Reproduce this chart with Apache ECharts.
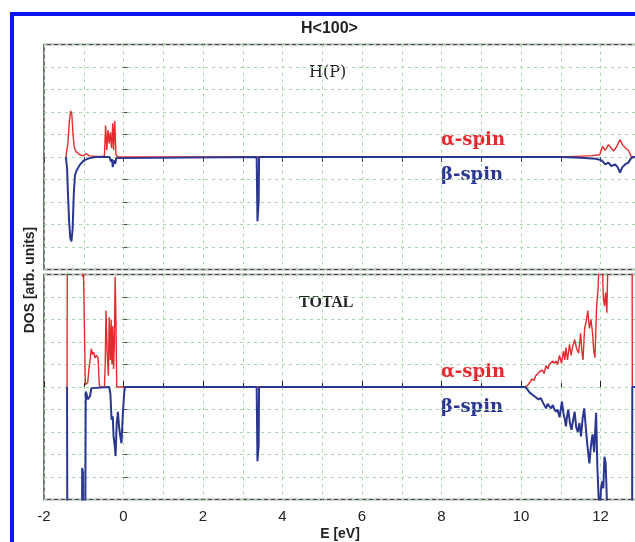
<!DOCTYPE html>
<html>
<head>
<meta charset="utf-8">
<script src="https://cdn.jsdelivr.net/npm/echarts@6/dist/echarts.min.js"></script>
<style>
  html, body { margin: 0; padding: 0; background: #fff; }
  #chart { width: 635px; height: 542px; }
</style>
</head>
<body>
<div id="chart"></div>
<script>
// Spin-resolved density of states, H<100> configuration.
// Upper panel: H(P) projected DOS; lower panel: total DOS.
// Energies in eV, DOS in arbitrary units (positive = alpha, negative = beta).

const xTicks = [-2, 0, 2, 4, 6, 8, 10, 12];

// ---- H(P) projected DOS, alpha spin ----
const hpAlphaE = [-1.45, -1.40, -1.36, -1.33, -1.30, -1.27, -1.24, -1.20, -1.15, -1.10, -1.05, -1.00, -0.95, -0.90, -0.85, -0.80, -0.70, -0.55, -0.48,
  -0.45, -0.42, -0.39, -0.36, -0.33, -0.30, -0.27, -0.25, -0.22, -0.19, -0.15,
  11.00, 11.40, 11.80, 11.98, 12.05, 12.12, 12.20, 12.27, 12.33, 12.42, 12.49, 12.55, 12.62, 12.70, 12.77, 12.84, 14.00];
const hpAlphaDos = [0, 0.6, 1.6, 2.05, 1.9, 1.0, 0.45, 0.25, 0.2, 0.1, 0.15, 0.05, 0.15, 0.1, 0.05, 0.05, 0.02, 0.02, 0.05,
  1.4, 0.3, 1.2, 0.6, 1.1, 0.4, 1.5, 0.3, 1.6, 0.1, 0,
  0, 0.03, 0.06, 0.1, 0.47, 0.3, 0.55, 0.4, 0.26, 0.5, 0.78, 0.55, 0.42, 0.3, 0.04, 0, 0];

// ---- H(P) projected DOS, beta spin ----
const hpBetaE = [-1.45, -1.42, -1.40, -1.37, -1.34, -1.31, -1.28, -1.25, -1.22, -1.18, -1.14, -1.10, -1.05, -1.00, -0.95, -0.85, -0.70,
  -0.35, -0.32, -0.29, -0.27, -0.24, -0.21, -0.18, -0.15,
  3.35, 3.37, 3.40, 3.41,
  11.00, 11.50, 11.88, 12.03, 12.12, 12.20, 12.27, 12.37, 12.43, 12.49, 12.55, 12.62, 12.70, 12.77, 12.84, 14.00];
const hpBetaDos = [0, -0.5, -1.5, -2.8, -3.6, -3.75, -3.2, -1.6, -0.8, -0.6, -0.55, -0.35, -0.3, -0.15, -0.1, -0.05, 0,
  0, -0.2, -0.1, -0.45, -0.15, -0.3, -0.05, 0,
  0, -2.85, -2.0, 0,
  0, -0.03, -0.08, -0.15, -0.33, -0.25, -0.4, -0.33, -0.45, -0.69, -0.45, -0.33, -0.25, -0.05, 0, 0];

// ---- Total DOS, alpha spin ----
const totAlphaE = [-1.42, -1.40, -1.39, -1.05, -1.03, -1.01, -0.98, -0.96, -0.93, -0.90, -0.87, -0.84, -0.81, -0.78, -0.75, -0.72, -0.68, -0.64, -0.61, -0.58,
  -0.48, -0.46, -0.44, -0.41, -0.38, -0.36, -0.33, -0.31, -0.29, -0.27, -0.25, -0.23, -0.21, -0.19, -0.17,
  10.10, 10.16, 10.22, 10.27, 10.33, 10.37, 10.42, 10.48, 10.54, 10.58, 10.63, 10.68, 10.71, 10.76, 10.80, 10.84, 10.88, 10.92, 10.97,
  11.02, 11.07, 11.10, 11.13, 11.17, 11.22, 11.26, 11.30, 11.35, 11.40, 11.45, 11.50, 11.53, 11.56, 11.60, 11.64, 11.68, 11.72, 11.76,
  11.80, 11.83, 11.86, 11.90, 11.94, 11.97, 12.00, 12.04, 12.07, 12.10, 12.13, 12.16, 12.19, 12.22, 12.78, 12.80, 14.00];
const totAlphaDos = [0, 0, 30, 30, 4.9, 5.5, 5.5, 0.1, 0.1, 0.2, 0.8, 1.2, 1.7, 1.45, 1.55, 1.3, 1.4, 1.3, 0.1, 0,
  0, 1.0, 3.4, 1.5, 0.5, 3.1, 1.2, 3.0, 1.0, 2.7, 0.8, 2.0, 4.9, 3.0, 0,
  0, 0.05, 0.2, 0.35, 0.3, 0.5, 0.45, 0.7, 0.75, 0.6, 0.95, 0.8, 1.0, 0.95, 1.15, 1.05, 1.15, 1.0, 1.4,
  1.05, 1.6, 1.2, 1.75, 1.2, 1.9, 1.4, 1.8, 2.1, 1.7, 1.5, 2.4, 1.6, 1.2, 2.6, 2.9, 3.4, 2.6, 3.0,
  2.4, 1.6, 1.3, 3.5, 4.4, 6, 8, 6, 4.0, 3.6, 4.2, 3.3, 6, 30, 30, 0, 0];

// ---- Total DOS, beta spin ----
const totBetaE = [-1.42, -1.40, -1.39, -1.05, -1.04, -1.02, -1.01, -0.97, -0.95, -0.93, -0.90, -0.87, -0.84, -0.81,
  -0.36, -0.33, -0.30, -0.27, -0.25, -0.22, -0.20, -0.17, -0.14, -0.11, -0.08, -0.05, -0.02, 0.02, 0.04,
  3.35, 3.37, 3.40, 3.41,
  10.10, 10.16, 10.22, 10.27, 10.33, 10.38, 10.44, 10.50, 10.54, 10.58, 10.63, 10.67, 10.71, 10.76, 10.80, 10.84, 10.88, 10.92, 10.97,
  11.00, 11.03, 11.07, 11.10, 11.13, 11.16, 11.19, 11.23, 11.27, 11.31, 11.35, 11.39, 11.43, 11.47, 11.51, 11.55, 11.59, 11.63, 11.67,
  11.72, 11.76, 11.80, 11.84, 11.87, 11.89, 11.92, 11.95, 11.98, 12.01, 12.04, 12.07, 12.10, 12.13, 12.16, 12.19, 12.78, 12.80, 14.00];
const totBetaDos = [0, 0, -30, -30, -3.6, -3.8, -30, -30, -0.2, -0.3, -0.55, -0.6, -0.4, -0.05,
  0, -0.3, -1.45, -1.3, -2.2, -2.6, -3.07, -1.6, -1.1, -1.8, -2.2, -2.5, -1.3, -0.2, 0,
  0, -3.3, -2.6, 0,
  0, -0.1, -0.25, -0.2, -0.4, -0.35, -0.55, -0.5, -0.65, -0.6, -0.95, -0.75, -0.85, -0.95, -0.8, -1.0, -1.1, -1.0, -1.35,
  -1.0, -0.65, -1.2, -1.4, -1.75, -1.3, -1.0, -1.6, -1.9, -1.5, -1.1, -1.8, -2.0, -1.6, -2.2, -1.4, -0.95, -1.8, -2.6,
  -3.4, -2.6, -2.1, -2.9, -1.8, -1.15, -3.5, -4.8, -6, -4.6, -4.2, -4.5, -3.1, -3.4, -5, -30, -30, 0, 0];

const RED = '#e52a2e';
const BLUE = '#2a3690';
const GRID_GREEN = '#a6d8a6';
const FRAME = '#4a4a4a';

const pairs = (e, v) => e.map((x, i) => [x, v[i]]);

const chart = echarts.init(document.getElementById('chart'), null, { renderer: 'canvas' });

const gridLine = { show: true, lineStyle: { color: GRID_GREEN, type: [3, 4], width: 1 } };

const yAxisBase = {
  type: 'value', min: -5, max: 5, interval: 1,
  axisLabel: { show: false },
  axisLine: { show: false },
  axisTick: { show: true, inside: true, length: 4, lineStyle: { color: FRAME } },
  splitLine: gridLine
};

const lineSeries = (name, data, color, width, xi, yi) => ({
  name, type: 'line', data, xAxisIndex: xi, yAxisIndex: yi,
  showSymbol: false, symbol: 'none', clip: true, animation: false,
  lineStyle: { color, width }, itemStyle: { color }
});

const serifLabel = (text, x, y, color, font) => ({
  type: 'text', left: x, top: y,
  style: { text, fill: color, font }
});

// plot area runs past the right edge of the canvas (axis extends to 14 eV)
const panel = top => ({
  left: 44, top, width: 636, height: 225,
  outerBoundsMode: 'none', containLabel: false,
  show: true, borderColor: FRAME, borderWidth: 1.5, backgroundColor: 'transparent'
});

const SPIN_FONT = 'bold 18px "DejaVu Serif"';

chart.setOption({
  animation: false,
  backgroundColor: '#ffffff',
  title: {
    text: 'H<100>', left: 296, top: 16,
    textStyle: { fontFamily: 'Liberation Sans', fontWeight: 'bold', fontSize: 16, color: '#222' }
  },
  grid: [panel(44.5), panel(274.5)],
  xAxis: [
    {
      type: 'value', gridIndex: 0, position: 'top', min: -2, max: 14, interval: 1,
      axisLabel: { show: false }, axisLine: { show: false },
      axisTick: { show: true, inside: true, length: 5, lineStyle: { color: FRAME } },
      splitLine: gridLine
    },
    {
      type: 'value', gridIndex: 1, position: 'bottom', min: -2, max: 14, interval: 2,
      axisLine: { show: false },
      axisTick: { show: true, inside: true, length: 6, lineStyle: { color: '#222' } },
      minorTick: { show: true, splitNumber: 2, length: 4, lineStyle: { color: '#222' } },
      splitLine: gridLine,
      minorSplitLine: gridLine,
      axisLabel: {
        show: true, margin: 10, fontFamily: 'Liberation Sans', fontSize: 15, color: '#222',
        formatter: v => (xTicks.indexOf(v) >= 0 ? String(v) : '')
      }
    }
  ],
  yAxis: [
    Object.assign({ gridIndex: 0 }, yAxisBase),
    Object.assign({ gridIndex: 1 }, yAxisBase)
  ],
  series: [
    lineSeries('H(P) α', pairs(hpAlphaE, hpAlphaDos), RED, 1.4, 0, 0),
    lineSeries('H(P) β', pairs(hpBetaE, hpBetaDos), BLUE, 2, 0, 0),
    lineSeries('TOTAL α', pairs(totAlphaE, totAlphaDos), RED, 1.4, 1, 1),
    lineSeries('TOTAL β', pairs(totBetaE, totBetaDos), BLUE, 2, 1, 1)
  ],
  graphic: [
    // outer blue frame
    { type: 'rect', shape: { x: 12, y: 14, width: 700, height: 600 }, style: { fill: 'none', stroke: '#0a14f0', lineWidth: 4 }, z: 100 },
    serifLabel('H(P)', 309, 65, '#222', '16px "DejaVu Serif"'),
    serifLabel('TOTAL', 299, 295, '#222', 'bold 16px "Liberation Serif"'),
    serifLabel('α-spin', 441, 131, RED, SPIN_FONT),
    serifLabel('β-spin', 441, 166, BLUE, SPIN_FONT),
    serifLabel('α-spin', 441, 363, RED, SPIN_FONT),
    serifLabel('β-spin', 441, 398, BLUE, SPIN_FONT),
    {
      type: 'text', x: 30, y: 280, rotation: Math.PI / 2,
      style: { text: 'DOS [arb. units]', fill: '#222', font: 'bold 14px "Liberation Sans"', textAlign: 'center', textVerticalAlign: 'middle' }
    },
    {
      type: 'text', x: 340, y: 534,
      style: { text: 'E [eV]', fill: '#222', font: 'bold 14px "Liberation Sans"', textAlign: 'center', textVerticalAlign: 'middle' }
    }
  ]
});
</script>
</body>
</html>
